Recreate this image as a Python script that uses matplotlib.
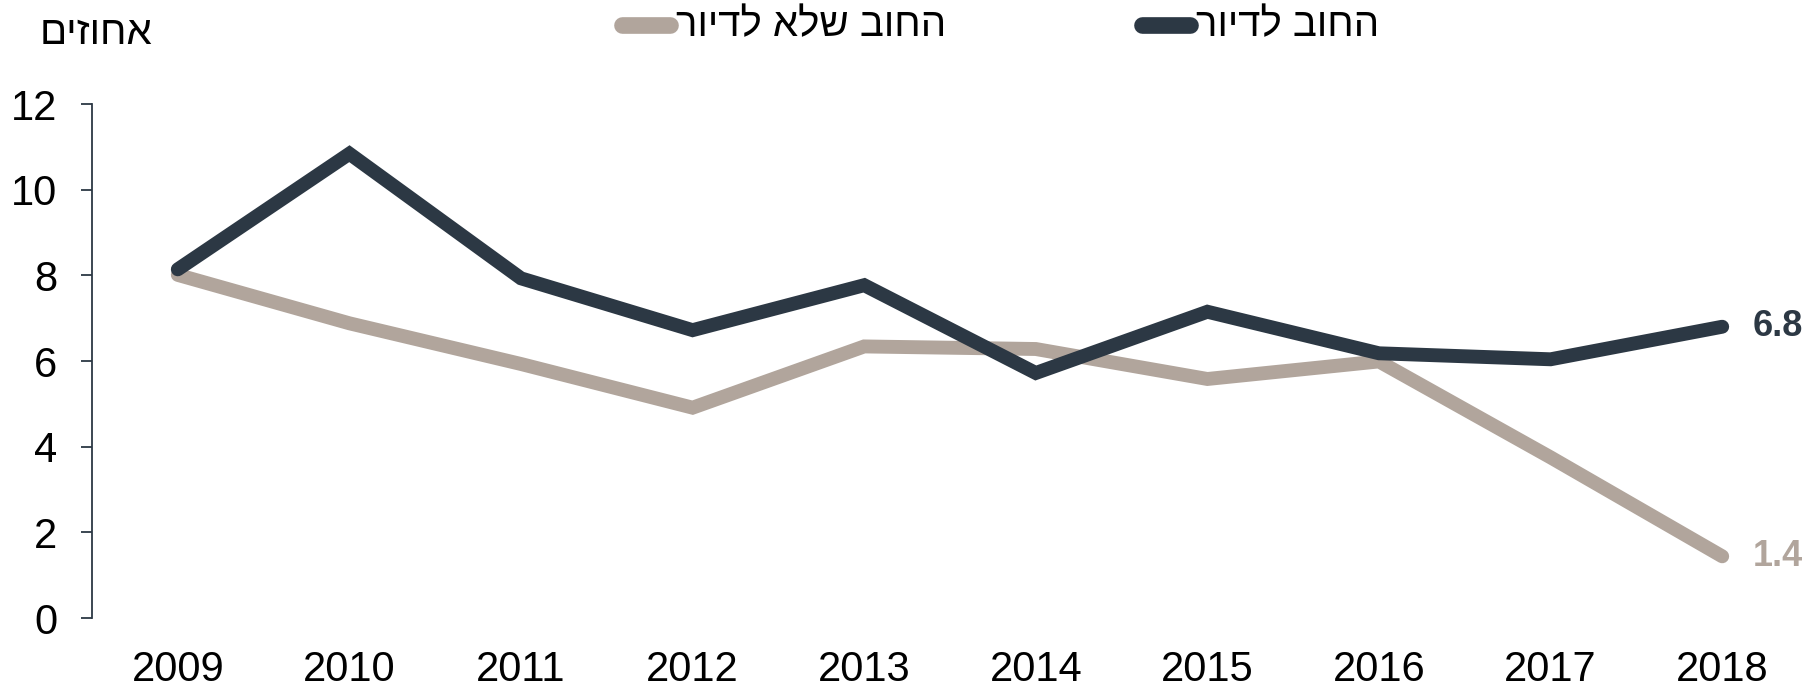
import matplotlib
matplotlib.use("Agg")
import matplotlib.pyplot as plt
from matplotlib.lines import Line2D

plt.rcParams['font.family'] = ['Liberation Sans', 'DejaVu Sans']

years = [2009, 2010, 2011, 2012, 2013, 2014, 2015, 2016, 2017, 2018]
housing = [8.14, 10.84, 7.93, 6.72, 7.77, 5.72, 7.15, 6.18, 6.04, 6.8]
non_housing = [8.01, 6.88, 5.93, 4.91, 6.34, 6.28, 5.58, 5.99, 3.75, 1.44]
yticks = [0, 2, 4, 6, 8, 10, 12]
label_housing = "החוב לדיור"
label_non_housing = "החוב שלא לדיור"
unit_label = "אחוזים"
end_housing = "6.8"
end_non_housing = "1.4"

def vis(s):
    return s[::-1]

DARK = '#2c3844'
GRAY = '#b1a59c'
W, H = 1812, 690

fig = plt.figure(figsize=(W / 100, H / 100), dpi=100)
ax = fig.add_axes([92 / W, 72 / H, (1808 - 92) / W, 514 / H])

ax.plot(years, non_housing, color=GRAY, lw=10, solid_capstyle='round',
        solid_joinstyle='miter', zorder=2)
ax.plot(years, housing, color=DARK, lw=10, solid_capstyle='round',
        solid_joinstyle='miter', zorder=3)

ax.set_xlim(2008.5, 2018.5)
ax.set_ylim(0, 12)
ax.set_yticks(yticks)
ax.set_xticks(years)
ax.set_xticklabels([str(y) for y in years])

for s in ['top', 'right', 'bottom']:
    ax.spines[s].set_visible(False)
ax.spines['left'].set_color(DARK)
ax.spines['left'].set_linewidth(1.3)
ax.tick_params(axis='y', length=8, width=1.3, color=DARK, pad=17,
               labelsize=30, labelcolor='black')
ax.tick_params(axis='x', length=0, pad=23, labelsize=30, labelcolor='black')

ax.annotate(end_housing, (years[-1], housing[-1]), xytext=(22, 0),
            textcoords='offset points', ha='left', va='center',
            fontsize=26, fontweight='bold', color=DARK, annotation_clip=False)
ax.annotate(end_non_housing, (years[-1], non_housing[-1]), xytext=(22, 0),
            textcoords='offset points', ha='left', va='center',
            fontsize=26, fontweight='bold', color=GRAY, annotation_clip=False)

# unit label
fig.text(40 / W, 1 - 33 / H, vis(unit_label), ha='left', va='center',
         fontsize=29, color='black')

# legend (manual)
ly = 1 - 25 / H
fig.add_artist(Line2D([622 / W, 670 / W], [ly, ly], color=GRAY, lw=12,
                      solid_capstyle='round', transform=fig.transFigure))
fig.text(676 / W, ly, vis(label_non_housing), ha='left', va='center',
         fontsize=29, color='black')
fig.add_artist(Line2D([1142 / W, 1190 / W], [ly, ly], color=DARK, lw=12,
                      solid_capstyle='round', transform=fig.transFigure))
fig.text(1196 / W, ly, vis(label_housing), ha='left', va='center',
         fontsize=29, color='black')

fig.savefig('out.png', dpi=100)
